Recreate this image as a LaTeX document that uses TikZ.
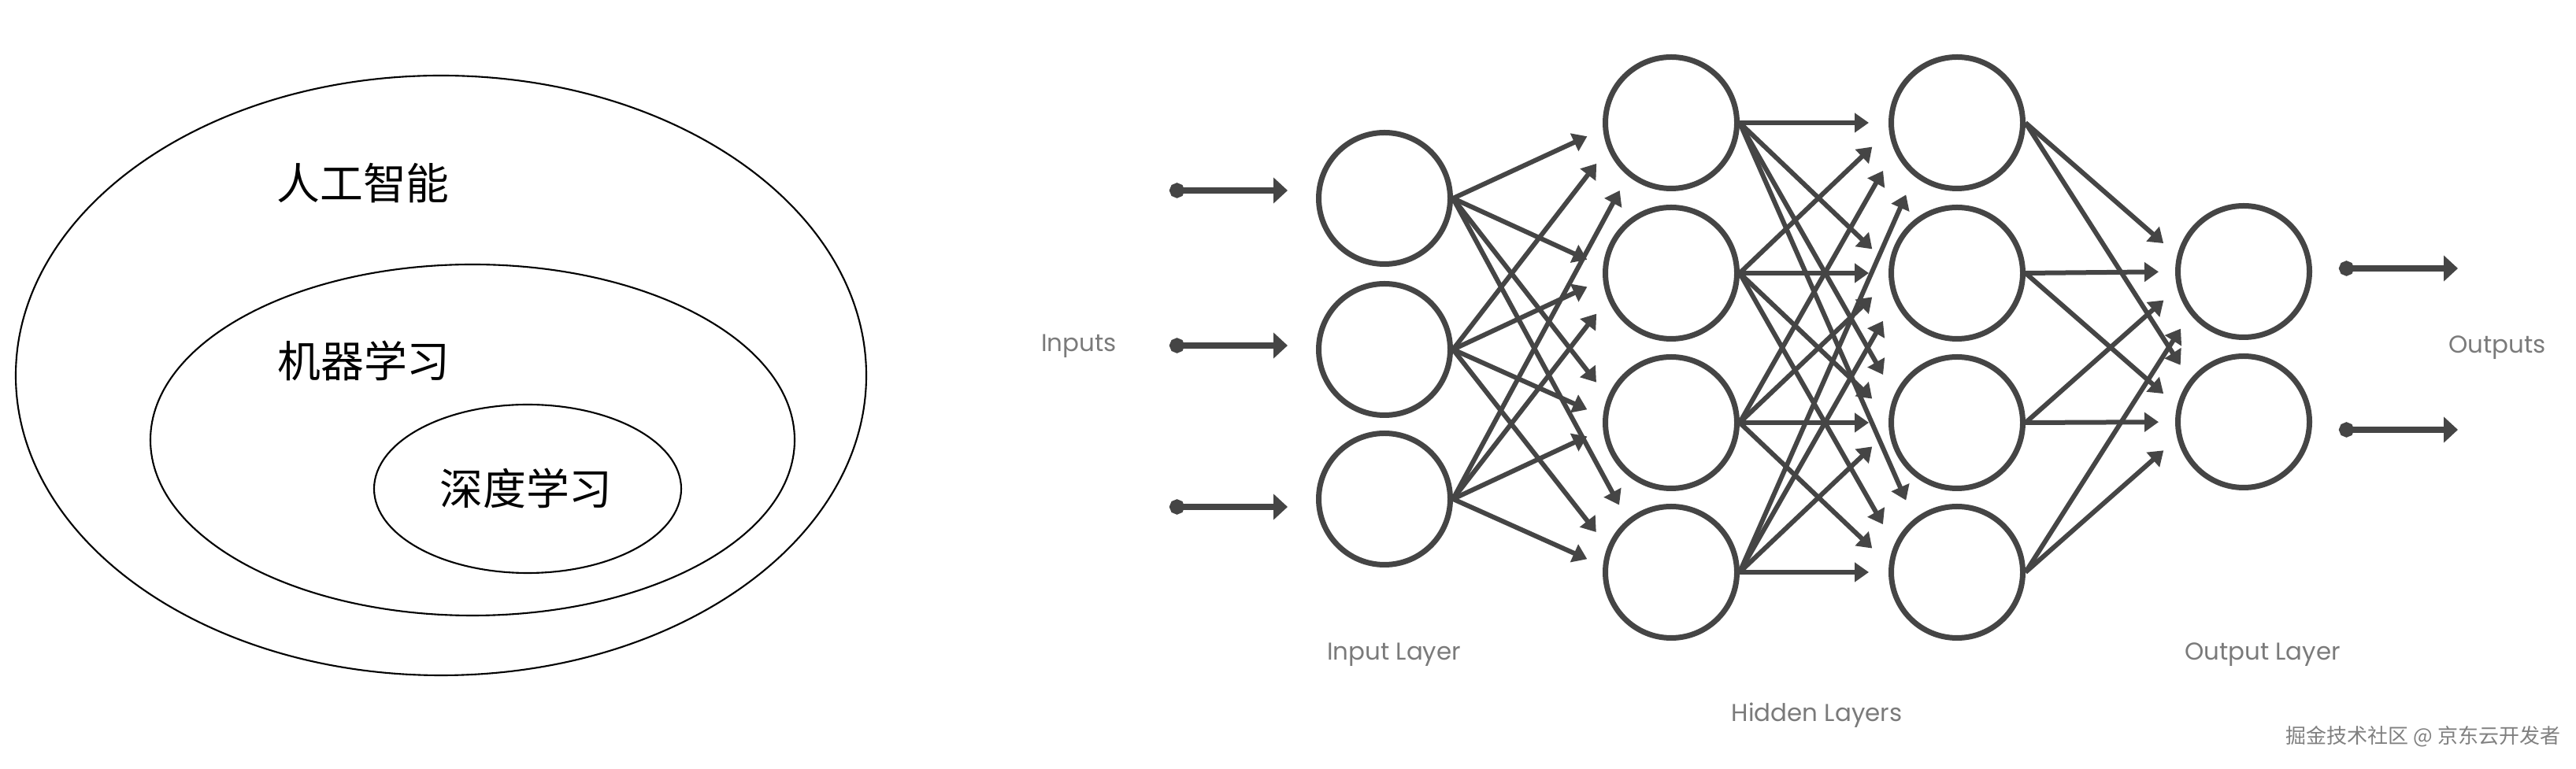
\documentclass[tikz,border=0pt]{standalone}
\usepackage{fontspec}
\setsansfont{Poppins}
\newfontfamily\cjk{Noto Sans CJK SC}
\usepackage{xcolor}
\usetikzlibrary{calc}
\usetikzlibrary{arrows.meta}
\usetikzlibrary{shapes.geometric}
\definecolor{netgray}{HTML}{454545}
\definecolor{labelgray}{HTML}{7A7A7A}
\tikzset{>={Triangle[length=1.8mm,width=2.4mm]}}

\begin{document}
\begin{tikzpicture}[font=\sffamily,
	neuron/.style={draw=netgray,circle,line width=0.07cm,minimum size=1.67cm,inner sep=0pt},
	link/.style={->,draw=netgray,line width=0.06cm},
	io/.style={{Circle[length=1.9mm]}-{Triangle[length=1.8mm,width=3.2mm]},draw=netgray,line width=0.08cm},
	set/.style={draw,ellipse,line width=0.6pt,inner sep=0pt},
	settext/.style={font=\cjk\fontsize{15.6pt}{18pt}\selectfont},
	lbl/.style={text=labelgray,font=\sffamily\fontsize{8.8pt}{10pt}\selectfont}]
	\useasboundingbox (0,0) rectangle (32.71,-9.77);
	% nested sets
	\node[set,minimum width=10.8cm,minimum height=7.62cm] (ai) at (5.60,-4.77) {};
	\node[set,minimum width=8.18cm,minimum height=4.46cm] (ml) at (6.00,-5.59) {};
	\node[set,minimum width=3.90cm,minimum height=2.14cm] (dl) at (6.70,-6.21) {};
	\node[settext] (ai text) at (4.61,-2.33) {人工智能};
	\node[settext] (ml text) at (4.62,-4.58) {机器学习};
	\node[settext] (dl text) at (6.68,-6.20) {深度学习};
	% network
	\node[neuron] (in1) at (17.58,-2.52) {};
	\node[neuron] (in2) at (17.58,-4.44) {};
	\node[neuron] (in3) at (17.58,-6.34) {};
	\node[neuron] (ha1) at (21.22,-1.56) {};
	\node[neuron] (ha2) at (21.22,-3.47) {};
	\node[neuron] (ha3) at (21.22,-5.37) {};
	\node[neuron] (ha4) at (21.22,-7.27) {};
	\node[neuron] (hb1) at (24.85,-1.56) {};
	\node[neuron] (hb2) at (24.85,-3.47) {};
	\node[neuron] (hb3) at (24.85,-5.37) {};
	\node[neuron] (hb4) at (24.85,-7.27) {};
	\node[neuron] (out1) at (28.49,-3.45) {};
	\node[neuron] (out2) at (28.49,-5.36) {};
	\foreach \s in {1,2,3}
		\foreach \t in {1,...,4}
			\draw[link] let \p1=(in\s), \p2=(ha\t), \n1={0.18*(\y1-(\y2))}, \n2={sqrt(1.08cm*1.08cm-(\n1)*(\n1))} in (in\s.east) -- ($(ha\t)+(-\n2,\n1)$);
	\foreach \s in {1,...,4}
		\foreach \t in {1,...,4}
			\draw[link] let \p1=(ha\s), \p2=(hb\t), \n1={0.16*(\y1-(\y2))}, \n2={sqrt(1.12cm*1.12cm-(\n1)*(\n1))} in (ha\s.east) -- ($(hb\t)+(-\n2,\n1)$);
	\foreach \s in {1,...,4}
		\foreach \t in {1,2}
			\draw[link] let \p1=(hb\s), \p2=(out\t), \n1={0.19*(\y1-(\y2))}, \n2={sqrt(1.08cm*1.08cm-(\n1)*(\n1))} in (hb\s.east) -- ($(out\t)+(-\n2,\n1)$);
	% inputs and outputs
	\coordinate (x1 a) at (14.85,-2.42);
	\coordinate (x1 b) at (16.35,-2.42);
	\coordinate (x2 a) at (14.85,-4.39);
	\coordinate (x2 b) at (16.35,-4.39);
	\coordinate (x3 a) at (14.85,-6.44);
	\coordinate (x3 b) at (16.35,-6.44);
	\coordinate (y1 a) at (29.70,-3.41);
	\coordinate (y1 b) at (31.21,-3.41);
	\coordinate (y2 a) at (29.70,-5.46);
	\coordinate (y2 b) at (31.21,-5.46);
	\draw[io] (x1 a)--(x1 b);
	\draw[io] (x2 a)--(x2 b);
	\draw[io] (x3 a)--(x3 b);
	\draw[io] (y1 a)--(y1 b);
	\draw[io] (y2 a)--(y2 b);
	\node[lbl] (inputs) at (13.70,-4.40) {Inputs};
	\node[lbl] (outputs) at (31.71,-4.42) {Outputs};
	\node[lbl] (input layer) at (17.70,-8.32) {Input Layer};
	\node[lbl] (hidden layers) at (23.07,-9.09) {Hidden Layers};
	\node[lbl] (output layer) at (28.73,-8.32) {Output Layer};
	\node[text=gray,font=\cjk\fontsize{7.4pt}{9pt}\selectfont] (mark) at (30.77,-9.36) {掘金技术社区 @ 京东云开发者};
\end{tikzpicture}
\end{document}
